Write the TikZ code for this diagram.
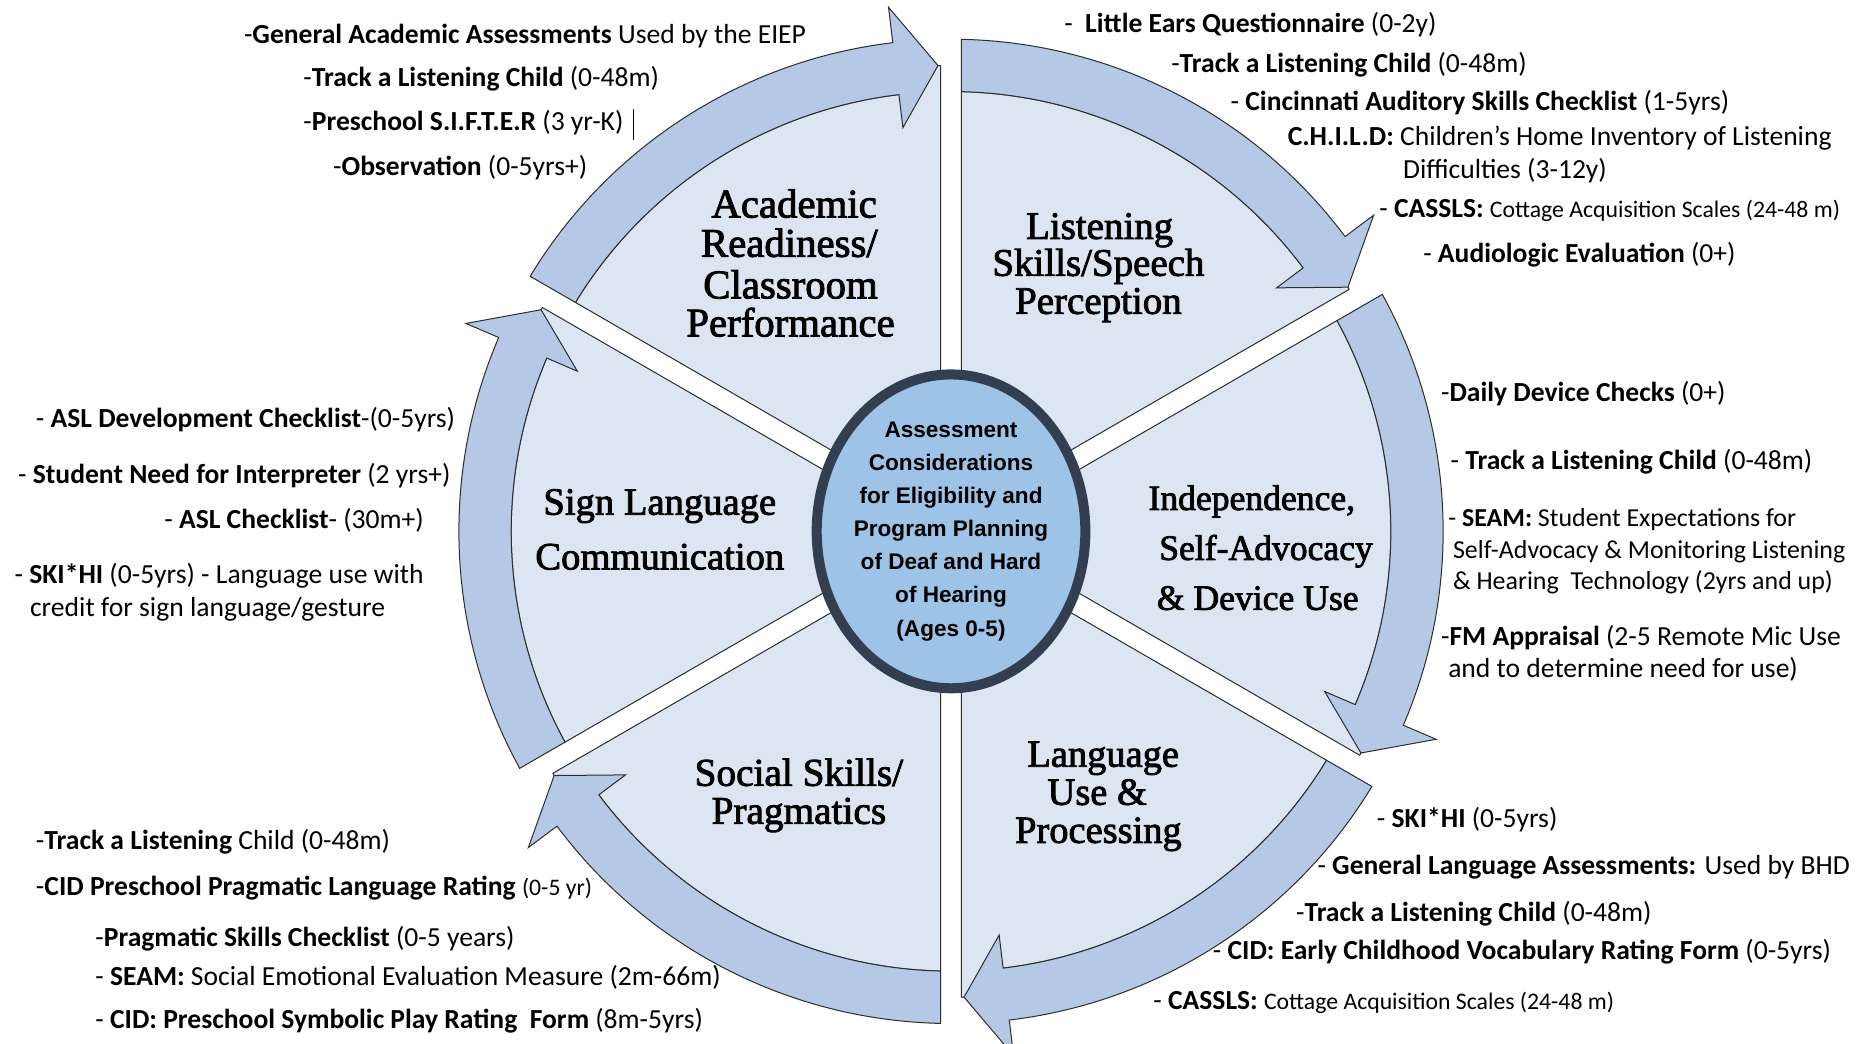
\documentclass[tikz,border=0pt]{standalone}
\usepackage{fontspec}
\setmainfont{Carlito}
\newfontfamily\ttlfont[FakeBold=2.2]{Liberation Serif}
\newfontfamily\hubfont{Liberation Sans}
\definecolor{secfill}{RGB}{220,230,242}
\definecolor{bandfill}{RGB}{181,200,230}
\definecolor{hubfill}{RGB}{157,195,230}
\definecolor{hubline}{RGB}{51,63,80}
\definecolor{edgecol}{RGB}{45,45,45}
\tikzset{
  sect/.style={fill=secfill, draw=edgecol, line width=0.6pt, line join=round},
  band/.style={fill=bandfill, draw=edgecol, line width=0.6pt, line join=miter},
  item/.style={anchor=base west, inner sep=0pt, text=black, font=\fontsize{16.5}{19}\selectfont},
  itemsm/.style={item, font=\fontsize{15.5}{18}\selectfont},
  ttl/.style={anchor=base, inner sep=0pt, text=black},
}
\newcommand\smtxt[1]{{\fontsize{14.2}{17}\selectfont #1}}
\begin{document}
\begin{tikzpicture}[x=0.025cm, y=0.025cm]
\fill[white] (0,0) rectangle (1568,878);
\useasboundingbox (0,0) rectangle (1568,878);

\begin{scope}[shift={(800,431)}]
  % light sectors
  \foreach \lo in {90,30,-30,-90,210,150}{
    \pgfmathsetmacro\ain{\lo+60-1.3627}
    \pgfmathsetmacro\base{\lo+6.8}
    \pgfmathsetmacro\tip{\lo+1.6}
    \pgfmathsetmacro\etip{\lo+1.2863}
    \pgfmathsetmacro\bis{\lo+30}
    \filldraw[sect] (\bis:17.6) -- (\ain:370) arc[start angle=\ain, end angle=\base, radius=370]
       -- (\tip:392) -- (\etip:392) -- cycle;
  }
  % arrow bands
  \foreach \lo in {90,30,-30,-90,210,150}{
    \pgfmathsetmacro\ain{\lo+60-1.3627}
    \pgfmathsetmacro\aout{\lo+60-1.2179}
    \pgfmathsetmacro\base{\lo+6.8}
    \pgfmathsetmacro\tip{\lo+1.6}
    \filldraw[band] (\aout:414) arc[start angle=\aout, end angle=\base, radius=414]
       -- (\base:444) -- (\tip:392) -- (\base:342) -- (\base:370)
       arc[start angle=\base, end angle=\ain, radius=370] -- cycle;
  }
  % hub
  \filldraw[fill=hubfill, draw=hubline, line width=6pt] (0,0) ellipse [x radius=113, y radius=132];
\end{scope}

\node[inner sep=0pt, align=center, text=black, font=\hubfont\bfseries\fontsize{13.5}{19.8}\selectfont] (hub) at (800,431)
  {Assessment\\Considerations\\for Eligibility and\\Program Planning\\of Deaf and Hard\\of Hearing\\(Ages 0-5)};

% sector titles
\begin{scope}[every node/.append style={ttl}]
  \node[font=\ttlfont\fontsize{24.4}{26}\selectfont] (ta1) at (668,695) {Academic};
  \node[font=\ttlfont\fontsize{24.4}{26}\selectfont] (ta2) at (664,662) {Readiness/};
  \node[font=\ttlfont\fontsize{24.4}{26}\selectfont] (ta3) at (665,627) {Classroom};
  \node[font=\ttlfont\fontsize{24.4}{26}\selectfont] (ta4) at (665,595) {Performance};

  \node[font=\ttlfont\fontsize{23.3}{25}\selectfont] (tl1) at (925,677) {Listening};
  \node[font=\ttlfont\fontsize{23.3}{25}\selectfont] (tl2) at (924,646) {Skills/Speech};
  \node[font=\ttlfont\fontsize{23.3}{25}\selectfont] (tl3) at (924,614) {Perception};

  \node[font=\ttlfont\fontsize{21.3}{24}\selectfont] (ti1) at (1053,449) {Independence,};
  \node[font=\ttlfont\fontsize{21.3}{24}\selectfont] (ti2) at (1065,407) {Self-Advocacy};
  \node[font=\ttlfont\fontsize{21.3}{24}\selectfont] (ti3) at (1058,365) {\& Device Use};

  \node[font=\ttlfont\fontsize{23}{25}\selectfont] (tg1) at (928,233) {Language};
  \node[font=\ttlfont\fontsize{23}{25}\selectfont] (tg2) at (923,201) {Use \&};
  \node[font=\ttlfont\fontsize{23}{25}\selectfont] (tg3) at (924,169) {Processing};

  \node[font=\ttlfont\fontsize{23.5}{25}\selectfont] (ts1) at (672,217) {Social Skills/};
  \node[font=\ttlfont\fontsize{23.5}{25}\selectfont] (ts2) at (672,185) {Pragmatics};

  \node[font=\ttlfont\fontsize{23.1}{25}\selectfont] (tn1) at (555,445) {Sign Language};
  \node[font=\ttlfont\fontsize{23.1}{25}\selectfont] (tn2) at (555,399) {Communication};
\end{scope}

% Academic list
\node[item] (a1) at (205,841) {-\textbf{General Academic Assessments} Used by the EIEP};
\node[item] (a2) at (255,805) {-\textbf{Track a Listening Child} (0-48m)};
\node[item] (a3) at (255,768) {-\textbf{Preschool S.I.F.T.E.R} (3 yr-K)};
\node[item] (a4) at (280,730) {-\textbf{Observation} (0-5yrs+)};
\draw[line width=0.6pt, black] (533,786) -- (533,760);

% Listening list
\node[item] (l1) at (895,851) {-~~\textbf{Little Ears Questionnaire} (0-2y)};
\node[item] (l2) at (985,817) {-\textbf{Track a Listening Child} (0-48m)};
\node[item] (l3) at (1035,785) {- \textbf{Cincinnati Auditory Skills Checklist} (1-5yrs)};
\node[item] (l4) at (1083,756) {\textbf{C.H.I.L.D:} Children's Home Inventory of Listening};
\node[item] (l5) at (1180,728) {Difficulties (3-12y)};
\node[item] (l6) at (1160,695) {- \textbf{CASSLS:} \smtxt{Cottage Acquisition Scales (24-48 m)}};
\node[item] (l7) at (1197,657) {- \textbf{Audiologic Evaluation} (0+)};

% Independence list
\node[item] (i1) at (1212,540) {-\textbf{Daily Device Checks} (0+)};
\node[item] (i2) at (1220,483) {- \textbf{Track a Listening Child} (0-48m)};
\node[itemsm] (i3) at (1218,435) {- \textbf{SEAM:} Student Expectations for};
\node[itemsm] (i4) at (1222,408) {Self-Advocacy \& Monitoring Listening};
\node[itemsm] (i5) at (1222,382) {\& Hearing~~Technology (2yrs and up)};
\node[item] (i6) at (1212,335) {-\textbf{FM Appraisal} (2-5 Remote Mic Use};
\node[item] (i7) at (1218,308) {and to determine need for use)};

% Language list
\node[item] (g1) at (1158,182) {- \textbf{SKI*HI} (0-5yrs)};
\node[item] (g2) at (1108,142) {- \textbf{General Language Assessments:} Used by BHD};
\node[item] (g3) at (1090,103) {-\textbf{Track a Listening Child} (0-48m)};
\node[item] (g4) at (1020,71) {- \textbf{CID: Early Childhood Vocabulary Rating Form} (0-5yrs)};
\node[item] (g5) at (970,29) {- \textbf{CASSLS:} \smtxt{Cottage Acquisition Scales (24-48 m)}};

% Social list
\node[item] (s1) at (30,163) {-\textbf{Track a Listening} Child (0-48m)};
\node[item] (s2) at (30,125) {-\textbf{CID Preschool Pragmatic Language Rating} \smtxt{(0-5 yr)}};
\node[item] (s3) at (80,82) {-\textbf{Pragmatic Skills Checklist} (0-5 years)};
\node[item] (s4) at (80,49) {- \textbf{SEAM:} Social Emotional Evaluation Measure (2m-66m)};
\node[item] (s5) at (80,13) {- \textbf{CID: Preschool Symbolic Play Rating~~Form} (8m-5yrs)};

% Sign list
\node[item] (n1) at (30,518) {- \textbf{ASL Development Checklist}-(0-5yrs)};
\node[item] (n2) at (15,471) {- \textbf{Student Need for Interpreter} (2 yrs+)};
\node[item] (n3) at (138,433) {- \textbf{ASL Checklist}- (30m+)};
\node[item] (n4) at (12,387) {- \textbf{SKI*HI} (0-5yrs) - Language use with};
\node[item] (n5) at (25,359) {credit for sign language/gesture};
\end{tikzpicture}
\end{document}
